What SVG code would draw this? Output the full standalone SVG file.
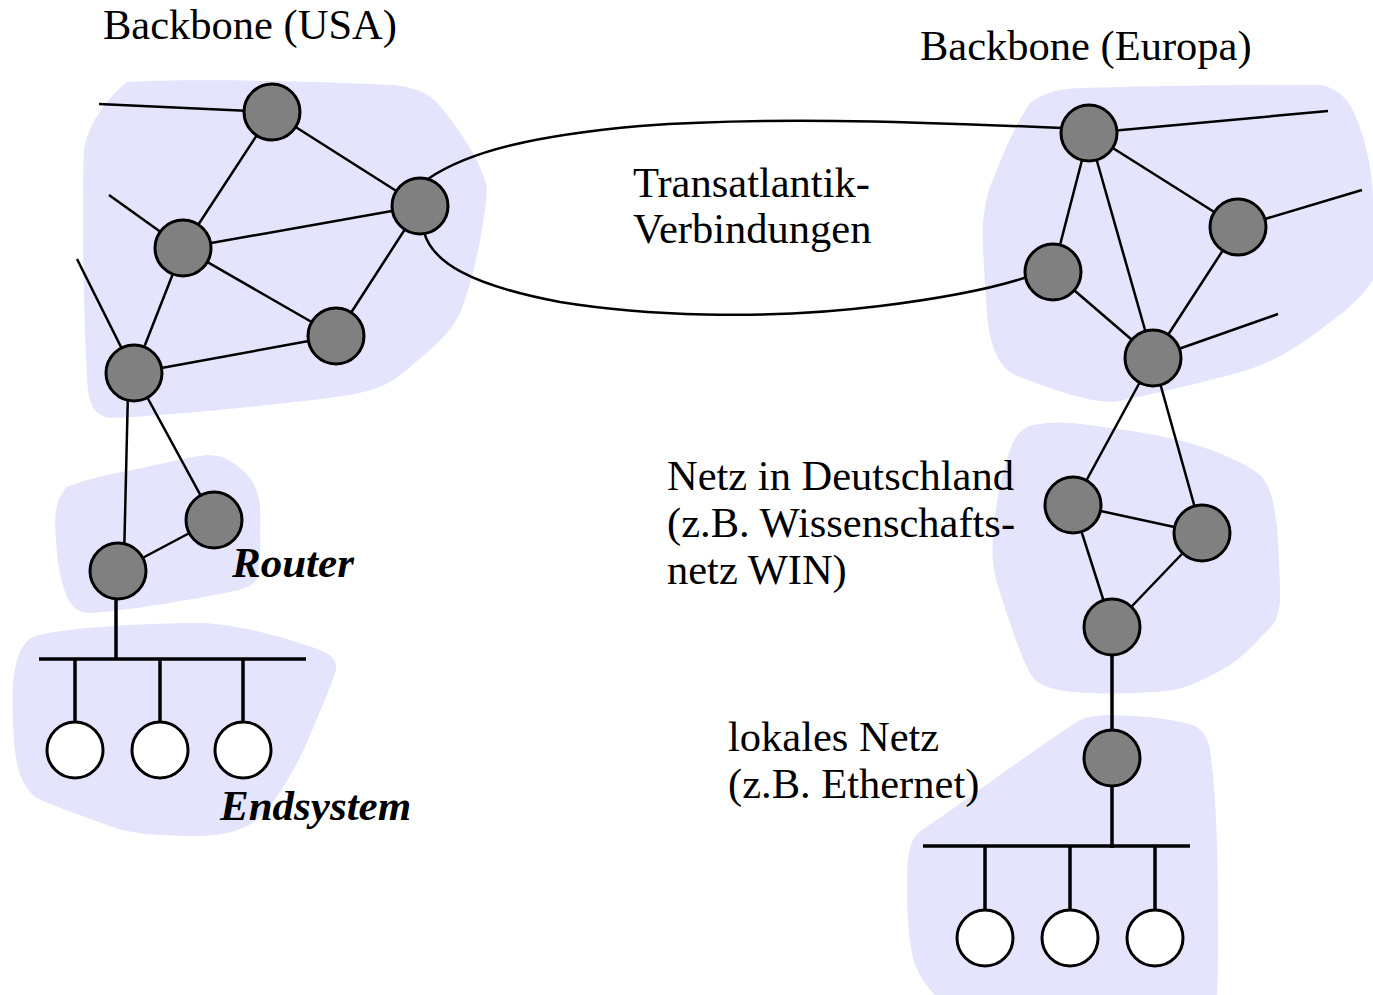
<svg xmlns="http://www.w3.org/2000/svg" width="1373" height="995" viewBox="0 0 1373 995">
  <style>
    .blob { fill: #e4e4fc; stroke: none; }
    .link { stroke: #000; stroke-width: 2.5; fill: none; }
    .bus { stroke: #000; stroke-width: 3.5; fill: none; }
    .router { fill: #808080; stroke: #000; stroke-width: 3; }
    .host { fill: #fff; stroke: #000; stroke-width: 3; }
    .label { font-family: "Liberation Serif", "Times New Roman", serif; font-size: 42.5px; fill: #000; }
    .tag { font-family: "Liberation Serif", "Times New Roman", serif; font-size: 43px; font-weight: bold; font-style: italic; fill: #000; }
  </style>

  <!-- network areas -->
  <g id="areas">
    <path id="area-usa" class="blob" d="M 127,82 C 200,78 330,82 393,85 C 420,88 432,96 440,106 C 460,130 480,160 487,187 C 485,230 470,290 460,313 C 450,335 430,350 410,367 C 390,385 375,390 350,395 C 280,405 170,415 115,418 C 95,418 90,405 88,390 C 83,320 82,200 84,150 C 88,125 105,100 127,82 Z"/>
    <path id="area-europa" class="blob" d="M 1030,103 C 1045,92 1060,89 1080,88 C 1150,86 1270,84 1320,85 C 1338,88 1350,100 1357,120 C 1365,140 1373,170 1373,200 L 1373,280 C 1360,300 1340,315 1320,330 C 1300,345 1270,365 1237,373 C 1200,383 1150,395 1113,402 C 1090,402 1060,392 1020,377 C 1000,370 990,350 987,313 C 984,270 982,240 983,223 C 985,200 990,185 993,180 C 1000,160 1015,125 1030,103 Z"/>
    <path id="area-deutschland" class="blob" d="M 1033,425 C 1050,422 1060,422 1073,423 C 1110,428 1150,432 1190,443 C 1220,452 1245,463 1260,475 C 1275,490 1278,520 1280,587 C 1281,610 1278,622 1265,633 C 1250,648 1240,660 1225,668 C 1200,682 1185,688 1173,690 C 1140,694 1110,694 1090,693 C 1060,692 1045,688 1035,680 C 1025,668 1015,640 997,583 C 992,565 992,550 993,535 C 996,500 1003,470 1010,450 C 1015,435 1022,428 1033,425 Z"/>
    <path id="area-usa-router" class="blob" d="M 67,487 C 90,478 110,474 133,470 C 160,464 190,457 207,455 C 220,455 228,458 240,468 C 252,478 258,488 260,507 C 261,540 260,565 257,578 C 254,586 245,589 230,592 C 190,600 130,610 93,613 C 80,614 72,608 67,597 C 60,580 57,560 56,540 C 54,515 55,500 67,487 Z"/>
    <path id="area-usa-lan" class="blob" d="M 33,637 C 60,628 140,623 200,623 C 230,624 270,632 320,650 C 332,655 337,660 336,670 C 330,690 318,715 308,740 C 295,770 280,795 262,815 C 250,828 230,835 200,836 C 160,836 130,834 110,826 C 80,815 50,805 35,797 C 22,785 16,770 14,740 C 12,710 12,690 14,675 C 17,655 22,643 33,637 Z"/>
    <path id="area-europa-lan" class="blob" d="M 1080,720 C 1090,716 1100,715 1113,715 C 1140,716 1170,718 1193,725 C 1203,730 1208,738 1210,750 C 1214,780 1215,800 1216,820 C 1218,860 1218,900 1218,933 C 1218,960 1218,980 1217,995 L 935,995 C 925,985 915,970 912,953 C 908,930 907,910 907,890 C 907,870 907,855 912,842 C 915,835 920,831 925,828 C 960,805 1030,752 1080,720 Z"/>
  </g>

  <!-- connectors -->
  <g id="connectors">
    <!-- stubs leaving the USA backbone -->
    <line class="link" x1="99" y1="104" x2="272" y2="112"/>
    <line class="link" x1="109" y1="195" x2="183" y2="248"/>
    <line class="link" x1="77" y1="259" x2="134" y2="373"/>
    <!-- USA backbone mesh -->
    <line class="link" x1="272" y1="112" x2="183" y2="248"/>
    <line class="link" x1="272" y1="112" x2="420" y2="206"/>
    <line class="link" x1="183" y1="248" x2="420" y2="206"/>
    <line class="link" x1="183" y1="248" x2="336" y2="336"/>
    <line class="link" x1="183" y1="248" x2="134" y2="373"/>
    <line class="link" x1="420" y1="206" x2="336" y2="336"/>
    <line class="link" x1="134" y1="373" x2="336" y2="336"/>
    <!-- USA backbone down to the access routers -->
    <line class="link" x1="128" y1="390" x2="124" y2="560"/>
    <line class="link" x1="134" y1="373" x2="214" y2="520"/>
    <line class="link" x1="118" y1="571" x2="214" y2="520"/>
    <!-- access router to LAN -->
    <line class="bus" x1="116" y1="590" x2="116" y2="659"/>
    <line class="bus" x1="39" y1="659" x2="306" y2="659"/>
    <line class="bus" x1="75" y1="659" x2="75" y2="730"/>
    <line class="bus" x1="160" y1="659" x2="160" y2="730"/>
    <line class="bus" x1="243" y1="659" x2="243" y2="730"/>

    <!-- transatlantic links -->
    <path class="link" d="M 428,179 C 470,150 540,135 640,126 C 760,117 900,121 1062,128"/>
    <path class="link" d="M 424,232 C 432,262 470,285 560,302 C 640,315 760,321 880,306 C 960,296 1000,286 1027,277"/>

    <!-- stubs leaving the European backbone -->
    <line class="link" x1="1089" y1="133" x2="1328" y2="111"/>
    <line class="link" x1="1238" y1="227" x2="1362" y2="190"/>
    <line class="link" x1="1153" y1="358" x2="1278" y2="314"/>
    <!-- European backbone mesh -->
    <line class="link" x1="1089" y1="133" x2="1053" y2="272"/>
    <line class="link" x1="1089" y1="133" x2="1153" y2="358"/>
    <line class="link" x1="1089" y1="133" x2="1238" y2="227"/>
    <line class="link" x1="1053" y1="272" x2="1153" y2="358"/>
    <line class="link" x1="1238" y1="227" x2="1153" y2="358"/>
    <!-- down into the German network -->
    <line class="link" x1="1153" y1="358" x2="1073" y2="505"/>
    <line class="link" x1="1153" y1="358" x2="1202" y2="533"/>
    <line class="link" x1="1073" y1="505" x2="1202" y2="533"/>
    <line class="link" x1="1073" y1="505" x2="1112" y2="627"/>
    <line class="link" x1="1202" y1="533" x2="1112" y2="627"/>
    <line class="bus" x1="1112" y1="627" x2="1112" y2="758"/>
    <!-- local Ethernet -->
    <line class="bus" x1="1112" y1="758" x2="1112" y2="848"/>
    <line class="bus" x1="923" y1="846" x2="1190" y2="846"/>
    <line class="bus" x1="985" y1="846" x2="985" y2="915"/>
    <line class="bus" x1="1070" y1="846" x2="1070" y2="915"/>
    <line class="bus" x1="1155" y1="846" x2="1155" y2="915"/>
  </g>

  <!-- routers -->
  <g id="usa-a"><circle class="router" cx="272" cy="112" r="28"/></g>
  <g id="usa-b"><circle class="router" cx="420" cy="206" r="28"/></g>
  <g id="usa-c"><circle class="router" cx="183" cy="248" r="28"/></g>
  <g id="usa-d"><circle class="router" cx="336" cy="336" r="28"/></g>
  <g id="usa-e"><circle class="router" cx="134" cy="373" r="28"/></g>
  <g id="usa-router-1"><circle class="router" cx="118" cy="571" r="28"/></g>
  <g id="usa-router-2"><circle class="router" cx="214" cy="520" r="28"/></g>

  <g id="eu-f"><circle class="router" cx="1089" cy="133" r="28"/></g>
  <g id="eu-g"><circle class="router" cx="1238" cy="227" r="28"/></g>
  <g id="eu-h"><circle class="router" cx="1053" cy="272" r="28"/></g>
  <g id="eu-i"><circle class="router" cx="1153" cy="358" r="28"/></g>
  <g id="de-j"><circle class="router" cx="1073" cy="505" r="28"/></g>
  <g id="de-k"><circle class="router" cx="1202" cy="533" r="28"/></g>
  <g id="de-l"><circle class="router" cx="1112" cy="627" r="28"/></g>
  <g id="lan-router"><circle class="router" cx="1112" cy="758" r="28"/></g>

  <!-- end systems -->
  <g id="host-usa-1"><circle class="host" cx="75" cy="750" r="28"/></g>
  <g id="host-usa-2"><circle class="host" cx="160" cy="750" r="28"/></g>
  <g id="host-usa-3"><circle class="host" cx="243" cy="750" r="28"/></g>
  <g id="host-eu-1"><circle class="host" cx="985" cy="938" r="28"/></g>
  <g id="host-eu-2"><circle class="host" cx="1070" cy="938" r="28"/></g>
  <g id="host-eu-3"><circle class="host" cx="1155" cy="938" r="28"/></g>

  <!-- labels -->
  <g id="labels">
    <text class="label" x="103" y="39">Backbone (USA)</text>
    <text class="label" x="920" y="60">Backbone (Europa)</text>
    <text class="label" x="633" y="197">Transatlantik-</text>
    <text class="label" x="633" y="243">Verbindungen</text>
    <text class="label" x="667" y="490">Netz in Deutschland</text>
    <text class="label" x="667" y="537">(z.B. Wissenschafts-</text>
    <text class="label" x="667" y="584">netz WIN)</text>
    <text class="label" x="728" y="751">lokales Netz</text>
    <text class="label" x="728" y="798">(z.B. Ethernet)</text>
    <text class="tag" x="232" y="577">Router</text>
    <text class="tag" x="220" y="820">Endsystem</text>
  </g>
</svg>
